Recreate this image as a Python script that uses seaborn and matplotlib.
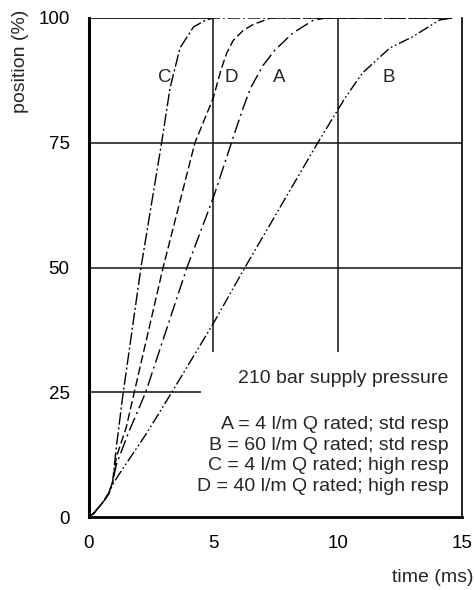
import matplotlib
matplotlib.use("Agg")
import matplotlib.pyplot as plt
import seaborn as sns
import pandas as pd

# valores (tempo em ms, posição em %)
t_c = [0, 0.2, 0.4, 0.6, 0.8, 0.95, 1.1, 1.35, 2.09, 2.92, 3.26, 3.66, 4.2, 4.7, 5.0, 14.6]
pos_c = [0, 0.8, 2, 3.2, 4.8, 7, 14, 24, 50, 75, 86, 94, 98.2, 99.6, 100, 100]

t_d = [0, 0.2, 0.4, 0.6, 0.8, 0.95, 1.1, 1.5, 1.82, 2.98, 4.26, 5.0, 5.3, 5.54, 5.8, 6.2, 6.6, 7.3, 14.6]
pos_d = [0, 0.8, 2, 3.2, 4.8, 7, 12, 18, 25, 50, 75, 84, 89.5, 93, 95.5, 97.5, 98.7, 100, 100]

t_a = [0, 0.2, 0.4, 0.6, 0.8, 0.95, 1.1, 1.58, 2.28, 3.94, 5.0, 5.86, 6.2, 6.5, 7.0, 7.48, 8.2, 9.0, 9.5, 14.6]
pos_a = [0, 0.8, 2, 3.2, 4.8, 7, 10.5, 16.8, 25, 50, 64, 77, 82, 86, 90.5, 93.6, 97, 99.5, 100, 100]

t_b = [0, 0.2, 0.4, 0.6, 0.8, 0.95, 1.2, 2.32, 3.33, 5.0, 6.27, 9.2, 9.76, 10.3, 11.0, 12.1, 13.0, 14.1, 14.6]
pos_b = [0, 0.8, 2, 3.2, 4.8, 6.5, 8.5, 16.8, 25, 38.8, 50, 75, 79.6, 84, 89, 94, 96.2, 99.6, 100]

curvas = ['C', 'D', 'A', 'B']
rotulo_t = [3.06, 5.74, 7.65, 12.07]
rotulo_pos = [88, 88, 88, 88]

legenda = [
    'A = 4 l/m Q rated; std resp',
    'B = 60 l/m Q rated; std resp',
    'C = 4 l/m Q rated; high resp',
    'D = 40 l/m Q rated; high resp',
]

x_ticks = [0, 5, 10, 15]
y_ticks = [0, 25, 50, 75, 100]

estilos = {
    'C': (0, (9, 2, 1.5, 2)),
    'D': (0, (6, 2.5)),
    'A': (0, (10, 3, 1.5, 3)),
    'B': (0, (8, 2, 1.2, 2, 1.2, 2)),
}

sns.set_theme(style="white")
plt.rcParams['font.family'] = ['Liberation Sans', 'DejaVu Sans']

fig = plt.figure(figsize=(4.75, 5.9), dpi=100)
ax = fig.add_axes([89 / 475, 1 - 517 / 590, 373 / 475, 499 / 590])

dados = {
    'C': (t_c, pos_c),
    'D': (t_d, pos_d),
    'A': (t_a, pos_a),
    'B': (t_b, pos_b),
}

# linhas de grade parciais, como no original
ax.hlines([50, 75], 0, 15, color='#111111', lw=1.1, zorder=1)
ax.hlines(25, 0, 4.5, color='#111111', lw=1.1, zorder=1)
ax.hlines(100, 0, 5, color='#111111', lw=1.3, zorder=1)
ax.vlines([5, 10], 33, 100, color='#111111', lw=1.1, zorder=1)

for nome in curvas:
    t, p = dados[nome]
    df = pd.DataFrame({'t': t, 'pos': p})
    sns.lineplot(data=df, x='t', y='pos', sort=False, color='black',
                 lw=1.0, linestyle=estilos[nome], ax=ax, zorder=3)

for nome, xt, yp in zip(curvas, rotulo_t, rotulo_pos):
    ax.text(xt, yp, nome, fontsize=13.5, ha='center', va='center')

ax.text(14.45, 27.7, '210 bar supply pressure', fontsize=14, ha='right', va='center')
ax.text(14.45, 12.3, '\n'.join(legenda), fontsize=14, ha='right', va='center',
        linespacing=1.27)

ax.set_xlim(0, 15)
ax.set_ylim(0, 100)
ax.set_xticks(x_ticks)
ax.set_yticks(y_ticks)
ax.set_xlabel('')
ax.set_ylabel('')
ax.tick_params(axis='x', direction='in', length=9, width=1.0, pad=13, labelsize=13.5, colors='black')
ax.tick_params(axis='y', direction='out', length=4, width=1.0, pad=10, labelsize=13.5, colors='black')

for lado in ['left', 'bottom', 'right', 'top']:
    ax.spines[lado].set_color('black')
ax.spines['left'].set_linewidth(2.2)
ax.spines['bottom'].set_linewidth(2.0)
ax.spines['right'].set_linewidth(1.2)
ax.spines['top'].set_visible(False)

fig.text(21 / 475, 1 - 10 / 590, 'position (%)', rotation=90, fontsize=14,
         ha='center', va='top')
fig.text(473 / 475, 1 - 577 / 590, 'time (ms)', fontsize=14, ha='right', va='center')

fig.savefig('out.png', dpi=100)
plt.close(fig)
